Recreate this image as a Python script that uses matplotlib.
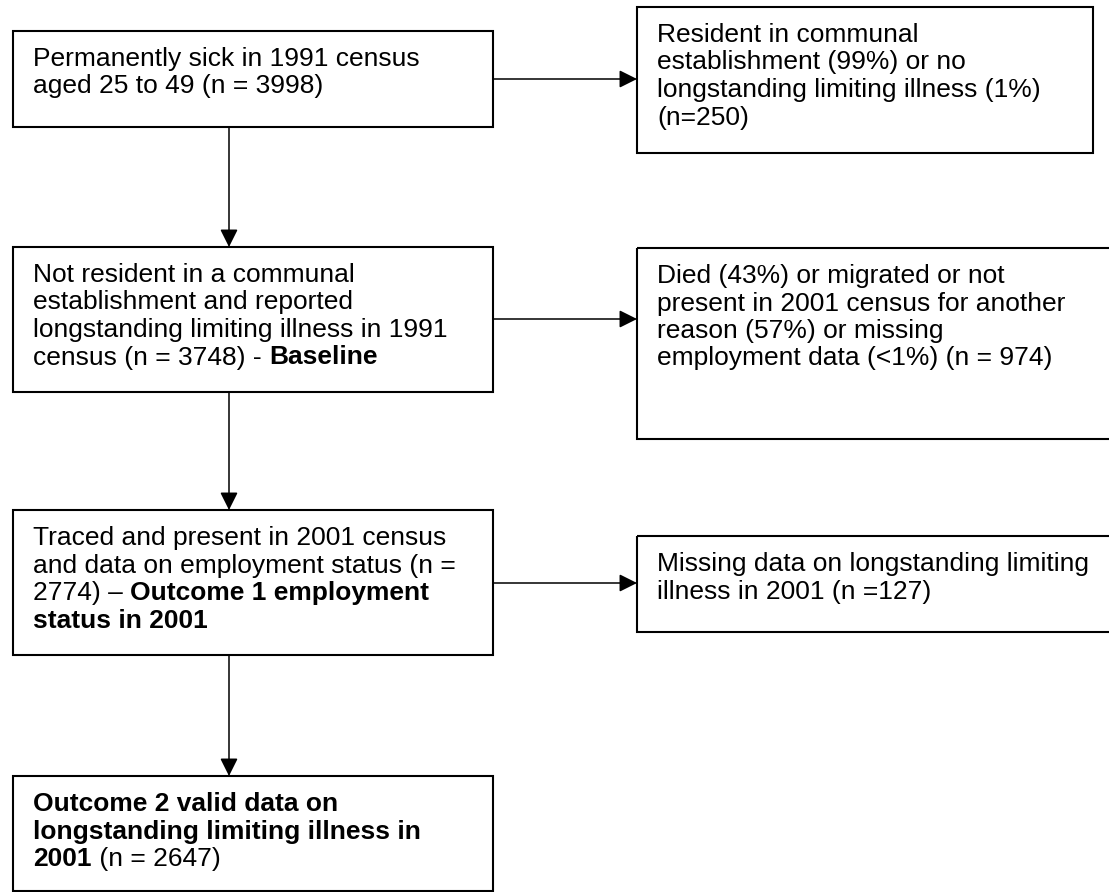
import matplotlib
matplotlib.use("Agg")
import matplotlib.pyplot as plt
from matplotlib.patches import Rectangle, FancyArrowPatch

W, H = 1109, 892
FONT = ["Liberation Sans", "DejaVu Sans"]
FS = 19  # points

# ---- text content (segments: (text, bold)) ----
box1_lines = [[("Permanently sick in 1991 census", False)],
              [("aged 25 to 49 (n = 3998)", False)]]
excl1_lines = [[("Resident in communal", False)],
               [("establishment (99%) or no", False)],
               [("longstanding limiting illness (1%)", False)],
               [("(n=250)", False)]]
box2_lines = [[("Not resident in a communal", False)],
              [("establishment and reported", False)],
              [("longstanding limiting illness in 1991", False)],
              [("census (n = 3748) - ", False), ("Baseline", True)]]
excl2_lines = [[("Died (43%) or migrated or not", False)],
               [("present in 2001 census for another", False)],
               [("reason (57%) or missing", False)],
               [("employment data (<1%) (n = 974)", False)]]
box3_lines = [[("Traced and present in 2001 census", False)],
              [("and data on employment status (n =", False)],
              [("2774) \u2013 ", False), ("Outcome 1 employment", True)],
              [("status in 2001", True)]]
excl3_lines = [[("Missing data on longstanding limiting", False)],
               [("illness in 2001 (n =127)", False)]]
box4_lines = [[("Outcome 2 valid data on", True)],
              [("longstanding limiting illness in", True)],
              [("2001", True), (" (n = 2647)", False)]]

# ---- layout (pixel coordinates: x0, y0, x1, y1) ----
main_boxes = [(13, 31, 493, 127), (13, 247, 493, 392),
              (13, 510, 493, 655), (13, 776, 493, 891)]
side_boxes = [(637, 7, 1093, 153), (637, 248, 1115, 439), (637, 536, 1115, 632)]
side_arrow_y = [79, 319, 583]
stem_x = 229
LINE_H = 27.5
PAD_X = 20
FIRST_BASE = 35

fig = plt.figure(figsize=(W / 100, H / 100), dpi=100)
ax = fig.add_axes([0, 0, 1, 1])
ax.set_xlim(0, W)
ax.set_ylim(H, 0)
ax.axis("off")
renderer = fig.canvas.get_renderer()


def draw_box(b, lines):
    x0, y0, x1, y1 = b
    ax.add_patch(Rectangle((x0, y0), x1 - x0, y1 - y0, fill=False,
                           edgecolor="black", linewidth=1.5, clip_on=False))
    for i, segs in enumerate(lines):
        x = x0 + PAD_X
        y = y0 + FIRST_BASE + i * LINE_H
        for s, bold in segs:
            t = ax.text(x, y, s, fontsize=FS, family=FONT,
                        fontweight="bold" if bold else "normal",
                        ha="left", va="baseline", color="black")
            x += t.get_window_extent(renderer).width


def arrow(p0, p1):
    ax.add_patch(FancyArrowPatch(p0, p1, arrowstyle="-|>,head_length=0.4,head_width=0.2",
                                 mutation_scale=27, color="black", linewidth=1.1,
                                 shrinkA=0, shrinkB=0))


for b, l in zip(main_boxes, [box1_lines, box2_lines, box3_lines, box4_lines]):
    draw_box(b, l)
for b, l in zip(side_boxes, [excl1_lines, excl2_lines, excl3_lines]):
    draw_box(b, l)

for i in range(3):
    arrow((stem_x, main_boxes[i][3]), (stem_x, main_boxes[i + 1][1]))
    arrow((main_boxes[i][2], side_arrow_y[i]), (side_boxes[i][0], side_arrow_y[i]))

fig.savefig("out.png", dpi=100, facecolor="white")
